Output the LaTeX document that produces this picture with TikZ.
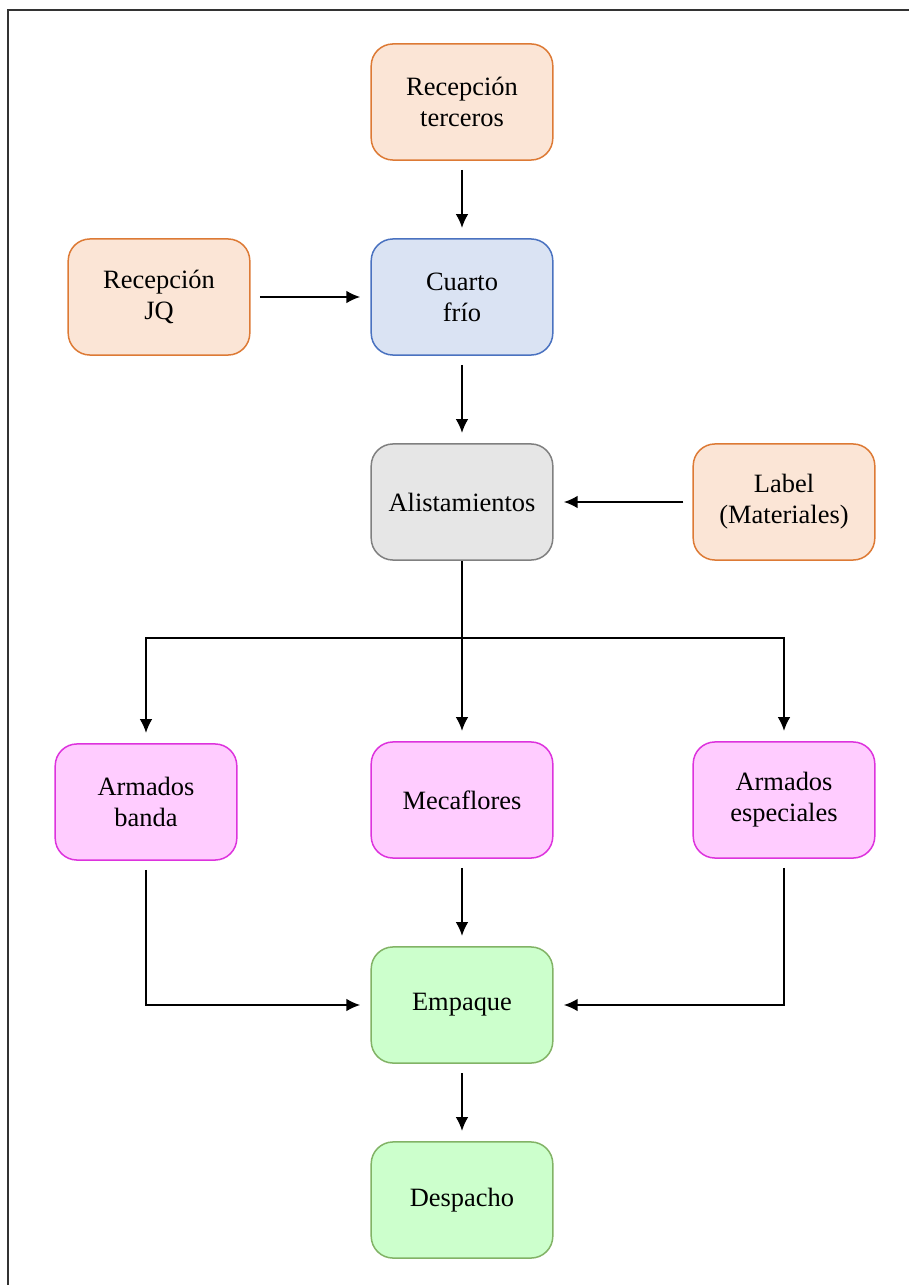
\documentclass[tikz,border=0pt]{standalone}
\usepackage{fontspec}
\setmainfont{Liberation Serif}
\usepackage{tikz}
\usetikzlibrary{arrows.meta}

\definecolor{naranjaF}{HTML}{FBE5D6}
\definecolor{naranjaB}{HTML}{DD7A35}
\definecolor{azulF}{HTML}{DAE3F3}
\definecolor{azulB}{HTML}{4A72C0}
\definecolor{grisF}{HTML}{E6E6E6}
\definecolor{grisB}{HTML}{808080}
\definecolor{rosaF}{HTML}{FFCCFF}
\definecolor{rosaB}{HTML}{DD33DD}
\definecolor{verdeF}{HTML}{CCFFCC}
\definecolor{verdeB}{HTML}{82B366}

\tikzset{
	caja/.style={rectangle, rounded corners=9.5pt, line width=0.65pt,
		minimum width=79pt, minimum height=50.5pt, align=center,
		font=\fontsize{11.5}{13.4}\selectfont},
	naranja/.style={caja, draw=naranjaB, fill=naranjaF},
	azul/.style={caja, draw=azulB, fill=azulF},
	gris/.style={caja, draw=grisB, fill=grisF},
	rosa/.style={caja, draw=rosaB, fill=rosaF},
	verde/.style={caja, draw=verdeB, fill=verdeF},
	flecha/.style={->, line width=0.65pt, shorten <=4pt, shorten >=4.5pt},
	linea/.style={line width=0.65pt},
	>={Latex[length=6pt,width=5.5pt]}
}

\begin{document}
\begin{tikzpicture}[x=0.435pt, y=-0.435pt]

	\useasboundingbox (0,0) rectangle (909,1285);

	% marco
	\draw[line width=1pt, black!80] (8,1285) -- (8,10) -- (909,10);

	\node[naranja] (rt) at (462, 102)   {Recepción\\terceros};
	\node[naranja] (jq) at (159, 297)   {Recepción\\JQ};
	\node[azul]    (cf) at (462, 297)   {Cuarto\\frío};

	\node[gris]    (al) at (462, 502)   {Alistamientos};
	\node[naranja] (lm) at (784, 502)   {Label\\(Materiales)};

	\node[rosa]    (ab) at (146, 802)   {Armados\\banda};
	\node[rosa]    (mf) at (462, 800)   {Mecaflores};
	\node[rosa]    (ae) at (784, 800)   {Armados\\especiales};

	\node[verde]   (em) at (462, 1005)  {Empaque};
	\node[verde]   (de) at (462, 1200)  {Despacho};

	\coordinate (br) at (462, 638);

	\path[flecha] (rt) edge (cf);
	\path[flecha] (jq) edge (cf);
	\path[flecha] (cf) edge (al);
	\path[flecha] (lm) edge (al);
	\path[flecha] (al) edge (mf);

	\draw[linea] (br) -- (al.south);
	\draw[flecha, shorten <=0pt] (br) -| (ab);
	\draw[flecha, shorten <=0pt] (br) -| (ae);

	\draw[flecha] (ab) |- (em);
	\draw[flecha] (ae) |- (em);
	\path[flecha] (mf) edge (em);
	\path[flecha] (em) edge (de);

\end{tikzpicture}
\end{document}
